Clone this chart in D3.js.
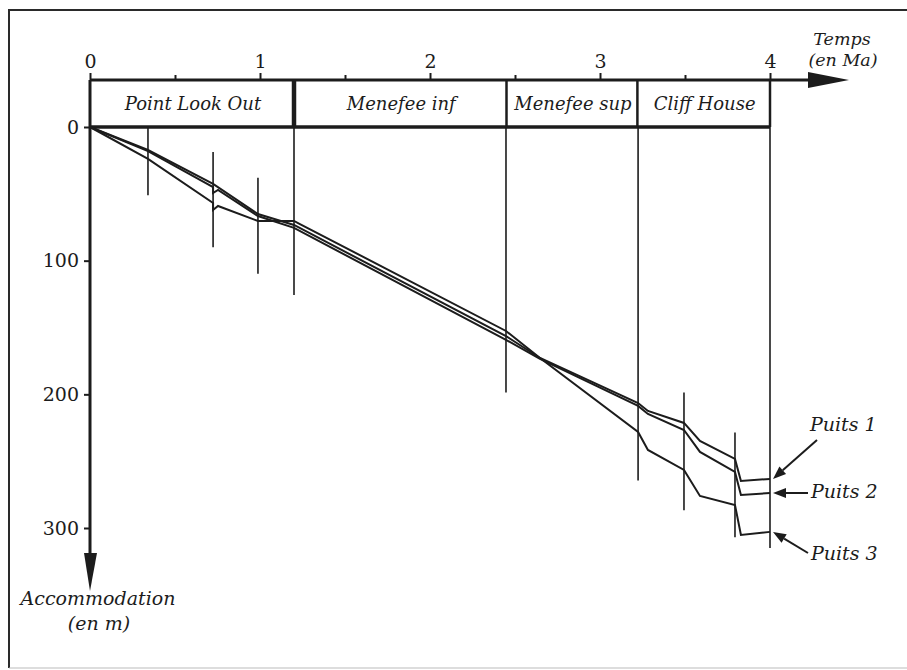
<!DOCTYPE html>
<html><head><meta charset="utf-8">
<script src="https://cdn.jsdelivr.net/npm/d3@7"></script>
<style>body{margin:0;background:#fff}svg{display:block}</style>
</head><body>
<script>
// ---- data ----
const timeTicks = [0, 1, 2, 3, 4];
const halfTicks = [0.5, 1.5, 2.5, 3.5];
const accTicks = [0, 100, 200, 300];
const formations = ["Point Look Out", "Menefee inf", "Menefee sup", "Cliff House"];
const formationBounds = [0, 1.2, 2.45, 3.22, 4.0];
const seriesNames = ["Puits 1", "Puits 2", "Puits 3"];
const puits1 = [[0,0],[0.341,17.2],[0.724,42.6],[0.988,65.1],[1.2,73.3],[2.447,156.4],[2.647,172.8],[3.224,206.5],[3.282,212.4],[3.494,221.4],[3.588,234.9],[3.794,248.3],[3.829,264.8],[4.0,263.3]];
const puits2 = [[0,0],[0.341,18],[0.724,44.9],[0.724,49.4],[0.753,47.1],[0.988,66.6],[1.2,75.5],[2.447,159.2],[2.647,173.4],[3.224,208.7],[3.282,214.7],[3.494,226.7],[3.588,243.1],[3.794,258.1],[3.829,275.3],[4.0,273.8]];
const puits3 = [[0,0],[0.341,23.9],[0.724,56.8],[0.724,62.1],[0.753,59.1],[0.988,70.3],[1.2,70.3],[1.235,72.6],[2.447,152.6],[2.647,172.8],[3.224,228.2],[3.282,241.6],[3.494,256.6],[3.588,276.0],[3.794,282.8],[3.829,305.2],[4.0,302.9]];
// vertical correlation markers: [time, top accommodation, bottom accommodation]
const markers = [[0.341,0,51],[0.724,18.7,90],[0.988,38,109.7],[1.2,0,125.6],[2.447,0,198.7],[3.224,0,264.5],[3.494,198.7,286.7],[3.794,228.6,306.9],[4.0,0,315]];

// ---- drawing ----
const W = 907, H = 670;
const ink = "#1c1c1c";
const serif = "'DejaVu Serif', 'Liberation Serif', serif";
const svg = d3.select("body").append("svg").attr("width", W).attr("height", H);
const x = d3.scaleLinear().domain([0, 4]).range([90, 770]);
const y = d3.scaleLinear().domain([0, 300]).range([127, 528]);
const axisY = 80;

// frame
svg.append("path").attr("d", `M${W+5},10 H9 V668`).attr("fill","none").attr("stroke","#2a2a2a").attr("stroke-width",2);
svg.append("path").attr("d", `M9,668 H${W+5}`).attr("fill","none").attr("stroke","#bbb").attr("stroke-width",1);

// time axis (top)
const gx = svg.append("g").attr("transform", `translate(0,${axisY})`)
  .call(d3.axisTop(x).tickValues(timeTicks).tickSize(7).tickPadding(5).tickFormat(d3.format("d")));
gx.select(".domain").remove();
gx.selectAll(".tick line").attr("stroke", ink).attr("stroke-width", 2);
gx.selectAll(".tick text").attr("font-family", serif).attr("font-size", 19).attr("fill", ink);
const gx2 = svg.append("g").attr("transform", `translate(0,${axisY})`)
  .call(d3.axisTop(x).tickValues(halfTicks).tickSize(5).tickFormat(""));
gx2.select(".domain").remove();
gx2.selectAll(".tick line").attr("stroke", ink).attr("stroke-width", 2);
svg.append("line").attr("x1", x(0)).attr("x2", 812).attr("y1", axisY).attr("y2", axisY).attr("stroke", ink).attr("stroke-width", 3);
svg.append("path").attr("d", `M808,72 L849,80 L808,88 Z`).attr("fill", ink);
svg.append("text").attr("x", 842).attr("y", 45).attr("text-anchor","middle").attr("font-family", serif).attr("font-style","italic").attr("font-size", 17.5).attr("fill", ink).text("Temps");
svg.append("text").attr("x", 843).attr("y", 66).attr("text-anchor","middle").attr("font-family", serif).attr("font-style","italic").attr("font-size", 17.5).attr("fill", ink).text("(en Ma)");

// accommodation axis (left)
const gy = svg.append("g").attr("transform", `translate(${x(0)},0)`)
  .call(d3.axisLeft(y).tickValues(accTicks).tickSize(6).tickPadding(5).tickFormat(d3.format("d")));
gy.select(".domain").remove();
gy.selectAll(".tick line").attr("stroke", ink).attr("stroke-width", 2);
gy.selectAll(".tick text").attr("font-family", serif).attr("font-size", 19).attr("fill", ink);
svg.append("line").attr("x1", x(0)).attr("x2", x(0)).attr("y1", axisY).attr("y2", 558).attr("stroke", ink).attr("stroke-width", 3);
svg.append("path").attr("d", `M84,553 L90,591 L97,553 Z`).attr("fill", ink);
svg.append("text").attr("x", 98).attr("y", 605).attr("text-anchor","middle").attr("font-family", serif).attr("font-style","italic").attr("font-size", 19).attr("fill", ink).text("Accommodation");
svg.append("text").attr("x", 99).attr("y", 630).attr("text-anchor","middle").attr("font-family", serif).attr("font-style","italic").attr("font-size", 19).attr("fill", ink).text("(en m)");

// formation header box
svg.append("line").attr("x1", x(0)).attr("x2", x(4)).attr("y1", y(0)).attr("y2", y(0)).attr("stroke", ink).attr("stroke-width", 3.5);
formationBounds.slice(1).forEach((b, i) => {
  svg.append("line").attr("x1", x(b)).attr("x2", x(b)).attr("y1", axisY).attr("y2", y(0))
    .attr("stroke", ink).attr("stroke-width", i === 0 ? 4.5 : 2.5);
});
formations.forEach((f, i) => {
  svg.append("text").attr("x", (x(formationBounds[i]) + x(formationBounds[i+1])) / 2 + 1).attr("y", 110)
    .attr("text-anchor","middle").attr("font-family", serif).attr("font-style","italic").attr("font-size", 18).attr("fill", ink).text(f);
});

// vertical markers
svg.append("g").selectAll("line").data(markers).join("line")
  .attr("x1", d => x(d[0])).attr("x2", d => x(d[0]))
  .attr("y1", d => y(d[1])).attr("y2", d => y(d[2]))
  .attr("stroke", ink).attr("stroke-width", 1.6);

// series
const line = d3.line().x(d => x(d[0])).y(d => y(d[1]));
const allSeries = [puits1, puits2, puits3];
svg.append("g").selectAll("path").data(allSeries).join("path")
  .attr("d", line).attr("fill","none").attr("stroke", ink).attr("stroke-width", 2).attr("stroke-linejoin","miter");

// labels with arrows
const labelSpec = [
  {tail:[817,440], lx:810, ly:431},
  {tail:[808,493], lx:811, ly:498},
  {tail:[808,553], lx:811, ly:560}
];
allSeries.forEach((s, i) => {
  const end = s[s.length - 1];
  const tx = x(end[0]) + 3, ty = y(end[1]);
  const [sx, sy] = labelSpec[i].tail;
  const ang = Math.atan2(ty - sy, tx - sx);
  const L = 13, Wd = 5;
  const bx = tx - L * Math.cos(ang), by = ty - L * Math.sin(ang);
  svg.append("line").attr("x1", sx).attr("y1", sy).attr("x2", bx).attr("y2", by).attr("stroke", ink).attr("stroke-width", 2);
  svg.append("path").attr("d", `M${tx},${ty} L${bx + Wd*Math.sin(ang)},${by - Wd*Math.cos(ang)} L${bx - Wd*Math.sin(ang)},${by + Wd*Math.cos(ang)} Z`).attr("fill", ink);
  svg.append("text").attr("x", labelSpec[i].lx).attr("y", labelSpec[i].ly).attr("font-family", serif).attr("font-style","italic").attr("font-size", 19).attr("fill", ink).text(seriesNames[i]);
});
</script>
</body></html>
